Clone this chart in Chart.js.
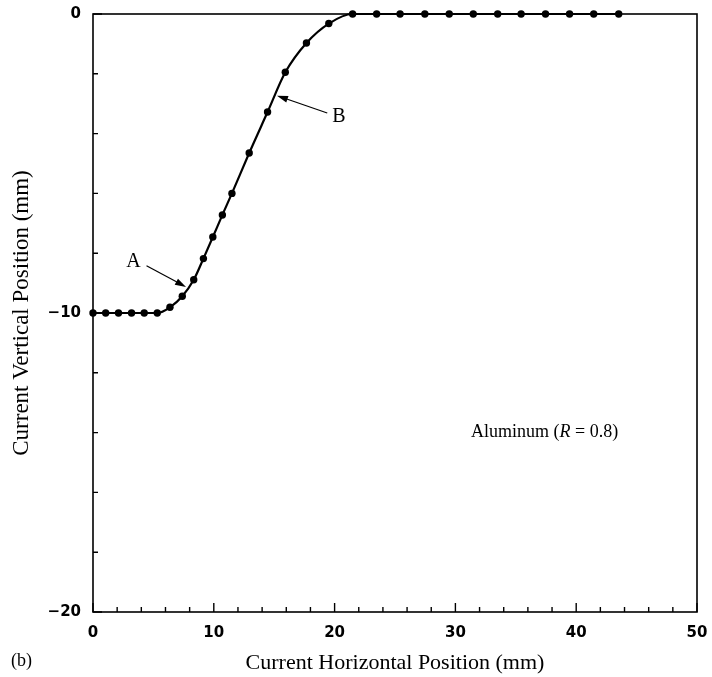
<!DOCTYPE html>
<html>
<head>
<meta charset="utf-8">
<script src="https://cdn.jsdelivr.net/npm/chart.js@4.4.1/dist/chart.umd.min.js"></script>
<style>
  html, body { margin: 0; padding: 0; background: #fff; }
  #wrap { width: 712px; height: 677px; position: relative; }
</style>
</head>
<body>
<div id="wrap"><canvas id="chart"></canvas></div>
<script>
// trayectoria medida (mm)
const posX = [0, 1.05, 2.11, 3.19, 4.24, 5.32, 6.37, 7.39, 8.34, 9.14, 9.92, 10.71, 11.5,
  12.93, 14.45, 15.92, 17.67, 19.52, 21.49, 23.48, 25.42, 27.47, 29.49, 31.48, 33.5,
  35.44, 37.46, 39.45, 41.45, 43.52];
const posY = [-10, -10, -10, -10, -10, -10, -9.81, -9.44, -8.89, -8.18, -7.46, -6.72, -6.0,
  -4.65, -3.28, -1.95, -0.97, -0.32, 0, 0, 0, 0, 0, 0, 0,
  0, 0, 0, 0, 0];
const xTicks = [0, 10, 20, 30, 40, 50];
const yTicks = [0, -10, -20];

// anotaciones en unidades de datos
const labelA = { text: "A", x: 3.35, y: -8.27, from: [4.43, -8.42], to: [7.7, -9.13] };
const labelB = { text: "B", x: 20.35, y: -3.42, from: [19.39, -3.31], to: [15.23, -2.73] };
const material = { x: 31.3, y: -14.0 };

const points = posX.map((x, i) => ({ x: x, y: posY[i] }));
const fmt = v => (v < 0 ? '\u2212' + Math.abs(v) : String(v));

function arrow(ctx, x1, y1, x2, y2) {
  const ang = Math.atan2(y2 - y1, x2 - x1);
  const len = 11, wid = 3.5;
  ctx.beginPath();
  ctx.moveTo(x1, y1);
  ctx.lineTo(x2 - Math.cos(ang) * len * 0.8, y2 - Math.sin(ang) * len * 0.8);
  ctx.lineWidth = 1.2;
  ctx.stroke();
  ctx.beginPath();
  ctx.moveTo(x2, y2);
  ctx.lineTo(x2 - Math.cos(ang) * len - Math.sin(ang) * wid, y2 - Math.sin(ang) * len + Math.cos(ang) * wid);
  ctx.lineTo(x2 - Math.cos(ang) * len + Math.sin(ang) * wid, y2 - Math.sin(ang) * len - Math.cos(ang) * wid);
  ctx.closePath();
  ctx.fill();
}

const framePlugin = {
  id: 'frame',
  afterDraw(chart) {
    const { ctx, chartArea: a, scales: { x, y } } = chart;
    ctx.save();
    ctx.strokeStyle = '#000';
    ctx.fillStyle = '#000';
    ctx.lineWidth = 1.6;
    ctx.strokeRect(a.left, a.top, a.right - a.left, a.bottom - a.top);

    // ticks hacia adentro
    ctx.lineWidth = 1.4;
    ctx.beginPath();
    for (let v = 0; v <= 50; v += 2) {
      const px = x.getPixelForValue(v);
      const l = v % 10 === 0 ? 9 : 5;
      ctx.moveTo(px, a.bottom);
      ctx.lineTo(px, a.bottom - l);
    }
    for (let v = -20; v <= 0; v += 2) {
      const py = y.getPixelForValue(v);
      const l = v % 10 === 0 ? 9 : 5;
      ctx.moveTo(a.left, py);
      ctx.lineTo(a.left + l, py);
    }
    ctx.stroke();

    // etiquetas A y B con flechas
    ctx.font = '20px "Liberation Serif"';
    ctx.textAlign = 'center';
    ctx.textBaseline = 'middle';
    [labelA, labelB].forEach(l => {
      ctx.fillText(l.text, x.getPixelForValue(l.x), y.getPixelForValue(l.y));
      arrow(ctx, x.getPixelForValue(l.from[0]), y.getPixelForValue(l.from[1]),
        x.getPixelForValue(l.to[0]), y.getPixelForValue(l.to[1]));
    });

    // texto del material
    let tx = x.getPixelForValue(material.x);
    const ty = y.getPixelForValue(material.y);
    ctx.textAlign = 'left';
    const parts = [['Aluminum (', '18px "Liberation Serif"'], ['R', 'italic 18px "Liberation Serif"'],
      [' = 0.8)', '18px "Liberation Serif"']];
    parts.forEach(p => {
      ctx.font = p[1];
      ctx.fillText(p[0], tx, ty);
      tx += ctx.measureText(p[0]).width;
    });

    // (b)
    ctx.font = '18px "Liberation Serif"';
    ctx.fillText('(b)', 11, 661);
    ctx.restore();
  }
};

new Chart(document.getElementById('chart'), {
  type: 'line',
  data: {
    datasets: [{
      data: points,
      borderColor: '#000',
      backgroundColor: '#000',
      borderWidth: 2.2,
      pointRadius: 3.7,
      pointBackgroundColor: '#000',
      pointBorderWidth: 0,
      cubicInterpolationMode: 'monotone'
    }]
  },
  options: {
    responsive: true,
    maintainAspectRatio: false,
    animation: false,
    clip: false,
    layout: { padding: { top: 14, right: 15, left: 0, bottom: 0 } },
    plugins: { legend: { display: false }, tooltip: { enabled: false } },
    scales: {
      x: {
        type: 'linear',
        min: 0, max: 50,
        afterFit: s => { s.height = 65; s.paddingLeft = 0; s.paddingRight = 0; },
        afterBuildTicks: s => { s.ticks = xTicks.map(v => ({ value: v })); },
        grid: { display: false, drawTicks: false },
        border: { display: false },
        ticks: { color: '#000', font: { family: 'DejaVu Sans', size: 15, weight: 'bold' }, padding: 12, maxRotation: 0, callback: fmt },
        title: {
          display: true, text: 'Current Horizontal Position (mm)', color: '#000',
          font: { family: 'Liberation Serif', size: 22 }, padding: { bottom: 1, top: 0 }
        }
      },
      y: {
        type: 'linear',
        min: -20, max: 0,
        afterFit: s => { s.width = 93; s.paddingTop = 0; s.paddingBottom = 0; },
        afterBuildTicks: s => { s.ticks = yTicks.map(v => ({ value: v })); },
        grid: { display: false, drawTicks: false },
        border: { display: false },
        ticks: { color: '#000', font: { family: 'DejaVu Sans', size: 15, weight: 'bold' }, padding: 12, callback: fmt },
        title: {
          display: true, text: 'Current Vertical Position (mm)', color: '#000',
          font: { family: 'Liberation Serif', size: 23 }, padding: { top: 8, bottom: 0 }
        }
      }
    }
  },
  plugins: [framePlugin]
});
</script>
</body>
</html>
